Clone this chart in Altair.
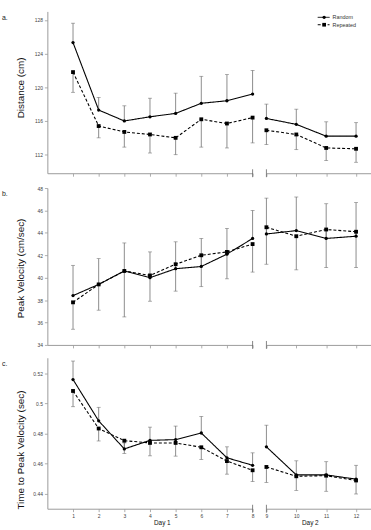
import altair as alt
import pandas as pd

# Sessions: 1-8 on Day 1, 9-12 on Day 2
sessions = list(range(1, 13))
day1_sessions = list(range(1, 9))
day2_sessions = list(range(9, 13))
series_names = ["Random", "Repeated"]

# a. Distance (cm)
dist_random = [125.3, 117.3, 116.0, 116.5, 116.9, 118.1, 118.4, 119.2, 116.3, 115.6, 114.2, 114.2]
dist_random_err = [2.3, 1.5, 1.8, 2.2, 2.4, 3.2, 3.1, 2.8, 1.7, 1.8, 1.7, 1.6]
dist_repeated = [121.8, 115.4, 114.7, 114.4, 114.0, 116.2, 115.7, 116.4, 114.9, 114.4, 112.8, 112.7]
dist_repeated_err = [2.4, 1.4, 1.8, 2.2, 2.0, 3.3, 2.9, 3.0, 1.7, 1.8, 1.5, 1.6]

# b. Peak velocity (cm/sec)
vel_random = [38.4, 39.4, 40.6, 40.0, 40.8, 41.0, 42.1, 43.5, 43.9, 44.2, 43.5, 43.7]
vel_random_err = [2.7, 2.3, 2.5, 2.3, 2.4, 2.5, 2.3, 2.5, 3.2, 3.0, 3.1, 3.0]
vel_repeated = [37.8, 39.4, 40.6, 40.2, 41.2, 42.0, 42.3, 43.0, 44.5, 43.7, 44.3, 44.1]
vel_repeated_err = [2.4, 2.3, 4.1, 2.3, 2.4, 2.8, 2.4, 2.5, 3.3, 3.0, 3.4, 3.2]

# c. Time to peak velocity (sec)
ttp_random = [0.516, 0.4885, 0.4698, 0.4755, 0.476, 0.4804, 0.4639, 0.4589, 0.4712, 0.4525, 0.4525, 0.4497]
ttp_random_err = [0.0123, 0.009, 0.004, 0.0088, 0.009, 0.011, 0.0073, 0.0083, 0.0144, 0.0094, 0.0088, 0.0092]
ttp_repeated = [0.5084, 0.4834, 0.4753, 0.4738, 0.4738, 0.4709, 0.4617, 0.4556, 0.4578, 0.4516, 0.452, 0.4488]
ttp_repeated_err = [0.0105, 0.0083, 0.0085, 0.0086, 0.0088, 0.0081, 0.0087, 0.0075, 0.0103, 0.0094, 0.0104, 0.009]

FONT = "Liberation Sans"
AXIS_GRAY = "#9a9a9a"
BAR_GRAY = "#6e6e6e"
DASH = [3, 2]


def build_frame(rand, rand_err, rep, rep_err):
    rows = []
    for i, s in enumerate(sessions):
        # Random bars point upward, Repeated bars downward
        rows.append({"session": s, "series": "Random", "mean": rand[i],
                     "lo": rand[i], "hi": rand[i] + rand_err[i], "cap": rand[i] + rand_err[i]})
        rows.append({"session": s, "series": "Repeated", "mean": rep[i],
                     "lo": rep[i] - rep_err[i], "hi": rep[i], "cap": rep[i] - rep_err[i]})
    return pd.DataFrame(rows)


dash_scale = alt.Scale(domain=series_names, range=[[1, 0], DASH])
shape_scale = alt.Scale(domain=series_names, range=["circle", "square"])
size_scale = alt.Scale(domain=series_names, range=[11, 15])


def day_panel(df, day, ydomain, yticks, ytitle, title_y, height, width,
              first, bottom, letter=None, legend=False):
    day_sessions = day1_sessions if day == 1 else day2_sessions
    xdomain = [0, 8] if day == 1 else [9, 12.5]
    sub = df[df["session"].isin(day_sessions)]

    x_axis = alt.Axis(
        values=day_sessions, labels=bottom, title=(f"Day {day}" if bottom else None),
        tickSize=3, labelPadding=2, titlePadding=1, titleFontSize=6.5,
        titleX=(116 if day == 1 else 44), titleAnchor="middle",
        labelOverlap=False, labelSeparation=0, labelFlush=False, format="d",
    )
    xscale = alt.Scale(domain=xdomain, nice=False, zero=False)
    x = alt.X("session:Q", scale=xscale, axis=x_axis)

    if first:
        y_axis = alt.Axis(values=yticks, title=ytitle, titleFontSize=10, titlePadding=2,
                          minExtent=20, maxExtent=20, tickSize=3, labelPadding=2,
                          titleY=title_y, titleAnchor="middle",
                          labelOverlap=False, format="~g")
    else:
        y_axis = None
    yscale = alt.Scale(domain=ydomain, nice=False, zero=False)

    def y(field):
        return alt.Y(f"{field}:Q", scale=yscale, axis=y_axis)

    base = alt.Chart(sub)
    bars = base.mark_rule(color=BAR_GRAY, strokeWidth=0.8).encode(x=x, y=y("lo"), y2="hi:Q")
    caps = base.mark_tick(color=BAR_GRAY, orient="horizontal", size=4, thickness=0.8).encode(
        x=x, y=y("cap"))
    lines = base.mark_line(color="black", strokeWidth=1.1).encode(
        x=x, y=y("mean"),
        strokeDash=alt.StrokeDash("series:N", scale=dash_scale, legend=None),
        detail="series:N")
    points = base.mark_point(filled=True, color="black", opacity=1).encode(
        x=x, y=y("mean"),
        shape=alt.Shape("series:N", scale=shape_scale, legend=None),
        size=alt.Size("series:N", scale=size_scale, legend=None))

    layers = [bars, caps, lines, points]

    # axis break marks at the end of each day
    brk = alt.Chart(pd.DataFrame({"k": [0]})).mark_rule(color="#666", strokeWidth=0.8).encode(
        x=alt.X(datum=(8 if day == 1 else 9), scale=xscale, axis=x_axis),
        y=alt.value(height - 4), y2=alt.value(height + 4))
    layers.append(brk)

    if letter is not None:
        layers.append(
            alt.Chart(pd.DataFrame({"t": [letter]})).mark_text(
                align="left", baseline="middle", fontSize=7, font=FONT, color="#222"
            ).encode(text="t:N", x=alt.value(-46), y=alt.value(6.5)))

    if legend:
        for i, name in enumerate(series_names):
            ly = 6 + i * 7.5
            one = pd.DataFrame({"series": [name]})
            layers.append(alt.Chart(one).mark_rule(
                color="black", strokeWidth=1, strokeDash=([1, 0] if i == 0 else DASH)
            ).encode(x=alt.value(52), x2=alt.value(64), y=alt.value(ly)))
            layers.append(alt.Chart(one).mark_point(
                filled=True, color="black", opacity=1,
                shape=("circle" if i == 0 else "square"), size=(11 if i == 0 else 14)
            ).encode(x=alt.value(58.5), y=alt.value(ly)))
            layers.append(alt.Chart(one).mark_text(
                align="left", baseline="middle", fontSize=5.5, font=FONT, color="#333"
            ).encode(text="series:N", x=alt.value(67), y=alt.value(ly)))

    return alt.layer(*layers).properties(width=width, height=height)


def row(rand, rand_err, rep, rep_err, ydomain, yticks, ytitle, title_y, height,
        letter, bottom=False, legend=False):
    df = build_frame(rand, rand_err, rep, rep_err)
    left = day_panel(df, 1, ydomain, yticks, ytitle, title_y, height, 208,
                     first=True, bottom=bottom, letter=letter)
    right = day_panel(df, 2, ydomain, yticks, ytitle, title_y, height, 106,
                      first=False, bottom=bottom, legend=legend)
    return alt.hconcat(left, right, spacing=8)


row_a = row(dist_random, dist_random_err, dist_repeated, dist_repeated_err,
            [109.8, 129.0], [112, 116, 120, 124, 128], "Distance (cm)", 77, 164, "a.",
            legend=True)
row_b = row(vel_random, vel_random_err, vel_repeated, vel_repeated_err,
            [34, 48], [34, 36, 38, 40, 42, 44, 46, 48], "Peak Velocity (cm/sec)", 81, 159, "b.")
row_c = row(ttp_random, ttp_random_err, ttp_repeated, ttp_repeated_err,
            [0.43, 0.5305], [0.44, 0.46, 0.48, 0.5, 0.52], "Time to Peak Velocity (sec)", 93, 153,
            "c.", bottom=True)

chart = alt.vconcat(row_a, row_b, row_c, spacing=8).properties(
    padding={"left": 2, "top": 8, "right": 0, "bottom": 0}
).configure_view(stroke=None).configure_axis(
    grid=False, domainColor=AXIS_GRAY, tickColor=AXIS_GRAY, domainWidth=1, tickWidth=0.8,
    labelFont=FONT, titleFont=FONT, labelFontSize=5, labelColor="#444",
    titleColor="#111", titleFontWeight="normal", labelOverlap=False,
).configure_concat(spacing=8)

chart.save("out.html", embed_options={"renderer": "svg", "actions": False})
